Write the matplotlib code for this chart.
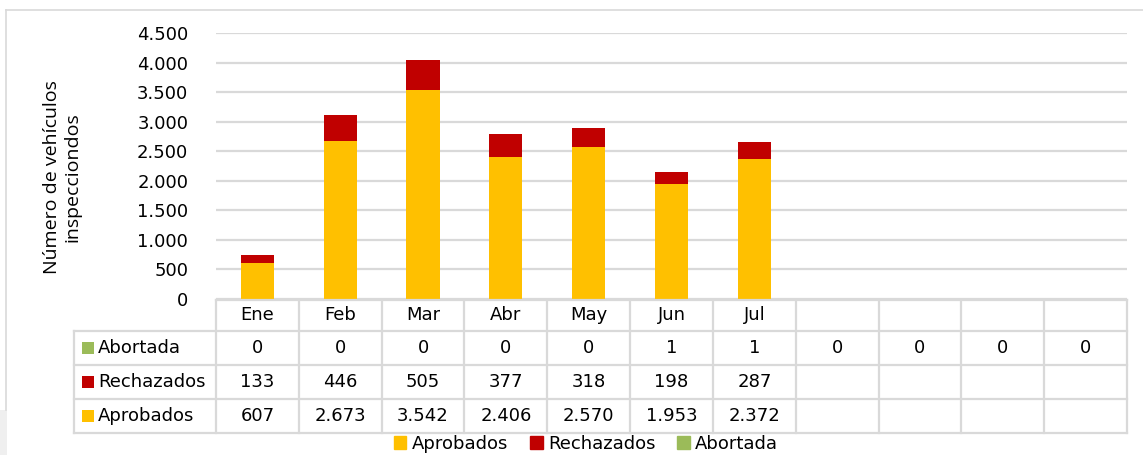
import matplotlib
matplotlib.use("Agg")
import matplotlib.pyplot as plt
from matplotlib.patches import Rectangle, Patch
from matplotlib.lines import Line2D
from matplotlib.transforms import blended_transform_factory
from matplotlib.ticker import FuncFormatter

months = ['Ene', 'Feb', 'Mar', 'Abr', 'May', 'Jun', 'Jul', '', '', '', '']
aprobados = [607, 2673, 3542, 2406, 2570, 1953, 2372]
rechazados = [133, 446, 505, 377, 318, 198, 287]
abortada = [0, 0, 0, 0, 0, 1, 1, 0, 0, 0, 0]
yticks = [0, 500, 1000, 1500, 2000, 2500, 3000, 3500, 4000, 4500]

C_APR = '#FFC000'
C_REC = '#C00000'
C_ABO = '#9BBB59'
GRID = '#D9D9D9'

W, H = 1143, 455
plt.rcParams['font.family'] = ['DejaVu Sans']
fig = plt.figure(figsize=(W / 100, H / 100), dpi=100)
FS = 13

def fx(px):
    return px / W

def fy(py):
    return 1 - py / H

# outer border
fig.add_artist(Line2D([fx(6), 1], [fy(10), fy(10)], color=GRID, lw=1.2, transform=fig.transFigure))
fig.add_artist(Line2D([fx(6), fx(6)], [fy(10), fy(410)], color=GRID, lw=1.2, transform=fig.transFigure))
fig.add_artist(Rectangle((0, 0), fx(7), fy(410), color='#EFEFEF', transform=fig.transFigure, lw=0))

left, right, top, bottom = 216, 1127, 33, 299
ax = fig.add_axes([fx(left), fy(bottom), fx(right - left), fy(top) - fy(bottom)])
n = len(months)
x = list(range(n))
ax.set_xlim(-0.5, n - 0.5)
ax.set_ylim(0, 4500)
ax.set_yticks(yticks)
ax.yaxis.set_major_formatter(FuncFormatter(lambda v, p: f"{int(v):,}".replace(',', '.')))
ax.tick_params(axis='y', length=0, pad=20, labelsize=FS)
ax.set_xticks([])
for s in ax.spines.values():
    s.set_visible(False)
ax.grid(axis='y', color=GRID, lw=1.6)
ax.set_axisbelow(True)

nb = len(aprobados)
bw = 0.4
ax.bar(x[:nb], aprobados, width=bw, color=C_APR, zorder=3)
ax.bar(x[:nb], rechazados, width=bw, bottom=aprobados, color=C_REC, zorder=3)
ax.bar(x[:nb], abortada[:nb], width=bw,
       bottom=[a + r for a, r in zip(aprobados, rechazados)], color=C_ABO, zorder=3)

fig.text(fx(62), fy(177), 'Número de vehículos\ninspecciondos', rotation=90,
         ha='center', va='center', fontsize=14, linespacing=1.15, family=['Open Sans', 'DejaVu Sans'])

# data table
tr = blended_transform_factory(ax.transData, fig.transFigure)
rows_y = [300, 331, 365, 399, 433]
lab_left = 74
def hline(py, x0px=None):
    if x0px is None:
        fig.add_artist(Line2D([-0.5, n - 0.5], [fy(py), fy(py)], color=GRID, lw=1.6, transform=tr))
    else:
        fig.add_artist(Line2D([fx(x0px), fx(right)], [fy(py), fy(py)], color=GRID, lw=1.6,
                              transform=fig.transFigure))
hline(rows_y[0])
for py in rows_y[1:]:
    hline(py, lab_left)
for i in range(n + 1):
    xv = i - 0.5
    fig.add_artist(Line2D([xv, xv], [fy(rows_y[0]), fy(rows_y[-1])], color=GRID, lw=1.6, transform=tr))
fig.add_artist(Line2D([fx(lab_left), fx(lab_left)], [fy(rows_y[1]), fy(rows_y[-1])],
                      color=GRID, lw=1.6, transform=fig.transFigure))

def fmt(v):
    return f"{int(v):,}".replace(',', '.')

for i, m in enumerate(months):
    fig.text(i, fy((rows_y[0] + rows_y[1]) / 2), m, transform=tr, ha='center', va='center', fontsize=FS)

series = [('Abortada', abortada, C_ABO), ('Rechazados', rechazados, C_REC), ('Aprobados', aprobados, C_APR)]
for r, (name, vals, col) in enumerate(series):
    yc = (rows_y[r + 1] + rows_y[r + 2]) / 2
    fig.add_artist(Rectangle((fx(82), fy(yc + 6)), fx(12), fy(yc - 6) - fy(yc + 6), color=col,
                             transform=fig.transFigure, lw=0))
    fig.text(fx(98), fy(yc), name, ha='left', va='center', fontsize=FS)
    for i, v in enumerate(vals):
        fig.text(i, fy(yc), fmt(v), transform=tr, ha='center', va='center', fontsize=FS)

handles = [Patch(color=C_APR, label='Aprobados'), Patch(color=C_REC, label='Rechazados'),
           Patch(color=C_ABO, label='Abortada')]
fig.legend(handles=handles, loc='center', bbox_to_anchor=(fx(586), fy(444)), ncol=3, frameon=False,
           fontsize=FS, handlelength=0.7, handleheight=0.7, handletextpad=0.3, columnspacing=1.2,
           borderpad=0)

fig.savefig('out.png', dpi=100)
